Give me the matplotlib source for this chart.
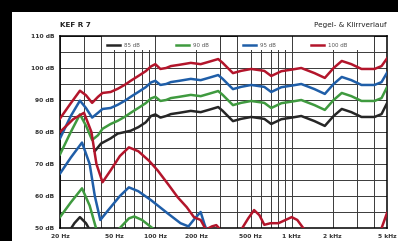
import numpy as np
import matplotlib.pyplot as plt
from matplotlib.patches import Rectangle

# fundamental (level) curves
f_red = [20, 24, 28, 31, 34.4, 38, 41, 47, 53, 60, 66, 75, 85, 93, 100, 109, 120, 130, 150, 182, 215,
         250, 289, 312, 340, 371, 425, 505, 630, 708, 840, 1000, 1175, 1470, 1750, 2030, 2330, 2740,
         3250, 4050, 4560, 5000]
db_red = [84.2, 89, 92.9, 91.5, 89.1, 91, 92.2, 92.5, 93.5, 94.8, 96, 97.5, 99, 100.5, 101.2, 99.7, 100,
          100.6, 101, 101.6, 101.2, 102, 102.8, 101.6, 100, 98.4, 99.1, 99.7, 99.1, 97.5, 99, 99.5, 100,
          98.4, 96.9, 100, 102.2, 101.2, 99.7, 99.7, 100.6, 103]
db_blue = [78, 85, 89.8, 87.5, 84.5, 86, 87.2, 87.5, 88.5, 89.8, 91, 92.5, 94, 95.5, 96, 94.7, 95,
           95.6, 96, 96.6, 96.2, 97, 97.8, 96.6, 95, 93.4, 94.1, 94.7, 94.1, 92.5, 94, 94.5, 95,
           93.4, 91.9, 95, 97.2, 96.2, 94.7, 94.7, 95.6, 98.5]
db_green = [73, 80, 85.5, 82, 77.5, 79, 81, 82.5, 83.5, 84.8, 86, 87.5, 89, 90.5, 91, 89.7, 90,
            90.6, 91, 91.6, 91.2, 92, 92.8, 91.6, 90, 88.4, 89.1, 89.7, 89.1, 87.5, 89, 89.5, 90,
            88.4, 86.9, 90, 92.2, 91.2, 89.7, 89.7, 90.6, 94]
f_black = [36, 40, 47, 53, 60, 66, 75, 85, 93, 100, 109, 120, 130, 150, 182, 215,
           250, 289, 312, 340, 371, 425, 505, 630, 708, 840, 1000, 1175, 1470, 1750, 2030, 2330, 2740,
           3250, 4050, 4560, 5000]
db_black = [74, 76.4, 78, 79.5, 80, 80.4, 81.5, 83, 85, 85.5, 84.5, 85, 85.6, 86, 86.6, 86.2, 87,
            87.8, 86.6, 85, 83.4, 84.1, 84.7, 84.1, 82.5, 84, 84.5, 85, 83.4, 81.9, 85, 87.2, 86.2,
            84.7, 84.7, 85.6, 89]

# distortion curves
f_red_d = [20, 25, 30, 34, 37, 41, 47, 55, 64, 75, 90, 104, 125, 146, 170, 192, 215, 235, 260, 280,
           300, 350, 420, 480, 530, 580, 630, 700, 800, 900, 1000, 1100, 1200, 1400, 4300, 4700, 5000]
db_red_d = [80, 84, 86, 80, 70, 64.3, 68, 72.5, 75.2, 74, 71, 68, 63.5, 59.6, 56.5, 53.4, 52.5, 49.5,
            50.5, 50.9, 49.5, 47, 49, 53, 55.6, 54, 51, 51.5, 51.5, 52.5, 53.4, 52.5, 50.3, 47, 47,
            51.5, 54.7]
f_blue_d = [20, 24, 29, 33, 36, 39.5, 45, 55, 64, 75, 93, 123, 153, 175, 195, 215, 230, 250]
db_blue_d = [67, 72, 76.7, 70, 60, 52.5, 55.5, 60, 62.7, 61.5, 58.7, 54.6, 51.5, 50.5, 53, 55, 51, 47]
f_green_d = [20, 24, 29, 33, 37, 45, 55, 64, 70, 80, 95, 104]
db_green_d = [53.4, 58, 62.4, 57, 49.5, 47, 50, 53, 53.6, 52.5, 50, 48.5]
f_black_d = [23, 25.5, 28, 31, 34]
db_black_d = [48.5, 51.5, 53.4, 51.5, 48.5]

levels = ["85 dB", "90 dB", "95 dB", "100 dB"]
colors = ["#262626", "#3f9a3f", "#1f5ea8", "#b3152b"]

xticks = [20, 50, 100, 200, 500, 1000, 2000, 5000]
xlabels = ["20 Hz", "50 Hz", "100 Hz", "200 Hz", "500 Hz", "1 kHz", "2 kHz", "5 kHz"]
yticks = [50, 60, 70, 80, 90, 100, 110]

fig = plt.figure(figsize=(3.98, 2.41), dpi=100, facecolor="black")
fig.patches.append(Rectangle((12 / 398, 0), 1, 1 - 12 / 241, transform=fig.transFigure,
                             facecolor="white", edgecolor="none", zorder=-5))
ax = fig.add_axes([60 / 398, 13 / 241, 327 / 398, 192 / 241])
ax.set_zorder(2)
ax.set_xscale("log")
ax.set_xlim(20, 5000)
ax.set_ylim(50, 110)

minor = [v * m for m in (10, 100, 1000) for v in range(1, 10) if 20 <= v * m <= 5000]
ax.set_xticks(minor, minor=True)
ax.set_xticks(xticks)
ax.set_xticklabels(xlabels, fontsize=4.3, fontweight="bold", color="#333")
ax.xaxis.set_minor_formatter(plt.NullFormatter())
ax.set_yticks(np.arange(50, 111, 5), minor=True)
ax.set_yticks(yticks)
ax.set_yticklabels([f"{v} dB" for v in yticks], fontsize=4.3, fontweight="bold", color="#333")
ax.tick_params(which="both", length=0, pad=4)
ax.set_axisbelow(True)
ax.grid(which="both", color="#3a3a3a", linewidth=0.7)
for s in ax.spines.values():
    s.set_linewidth(1.1)

# white band behind the legend entries
for x0, x1 in [(40, 100), (100, 300), (400, 1000), (1000, 4000)]:
    ax.add_patch(Rectangle((x0, 105.5), x1 - x0, 4.5, facecolor="white", edgecolor="none",
                           zorder=1))
for xv in [40, 100, 300, 400, 1000, 4000]:
    ax.plot([xv, xv], [105.5, 110], color="#3a3a3a", linewidth=0.7, zorder=1.2)

lw = 1.8
ax.plot(f_black, db_black, color=colors[0], lw=lw, zorder=3)
ax.plot(f_red, db_green, color=colors[1], lw=lw, zorder=3)
ax.plot(f_red, db_blue, color=colors[2], lw=lw, zorder=3)
ax.plot(f_red, db_red, color=colors[3], lw=lw, zorder=3)
ax.plot(f_black_d, db_black_d, color=colors[0], lw=lw, zorder=3)
ax.plot(f_green_d, db_green_d, color=colors[1], lw=lw, zorder=3)
ax.plot(f_blue_d, db_blue_d, color=colors[2], lw=lw, zorder=3)
ax.plot(f_red_d, db_red_d, color=colors[3], lw=lw, zorder=3)

# legend drawn by hand
leg_x = [107, 176, 243, 311]
for x, lab, c in zip(leg_x, levels, colors):
    x0 = (x - 60) / 327
    x1 = (x + 13 - 60) / 327
    ax.plot([x0, x1], [0.953, 0.953], transform=ax.transAxes, color=c, lw=1.8, zorder=4)
    ax.text(x1 + 0.012, 0.953, lab, transform=ax.transAxes, fontsize=4, color="#555",
            va="center", zorder=4)

fig.text(60 / 398, 1 - 25 / 241, "KEF R 7", fontsize=5.2, fontweight="bold", color="#222",
         va="center", ha="left")
fig.text(387 / 398, 1 - 25 / 241, "Pegel- & Klirrverlauf", fontsize=5.2, color="#222",
         va="center", ha="right")

fig.savefig("out.png", dpi=100, facecolor="black")
